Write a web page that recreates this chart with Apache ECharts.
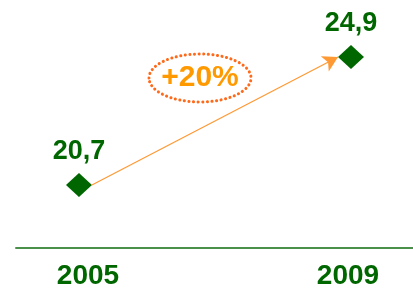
<!DOCTYPE html>
<html><head><meta charset="utf-8">
<script src="https://cdn.jsdelivr.net/npm/echarts@6/dist/echarts.min.js"></script>
<style>html,body{margin:0;padding:0;background:#fff}#c{width:413px;height:290px}</style>
</head><body><div id="c"></div>
<script>
const years = [2005, 2009];
const values = [20.7, 24.9];
const valueLabels = ['20,7', '24,9'];
const growthLabel = '+20%';

const green = '#006600';
const orange = '#FF9900';
const font = '"Liberation Sans", Arial, sans-serif';

const chart = echarts.init(document.getElementById('c'), null, {renderer: 'canvas'});
const half = 0.19; // half diamond width in x data units (axis 1)
chart.setOption({
  animation: false,
  grid: {left: 16, right: 0, top: 0, bottom: 42},
  xAxis: [{
    type: 'value', min: 2003.892, max: 2010,
    axisLine: {show: true, lineStyle: {color: '#4A904A', width: 2}},
    axisTick: {show: false}, splitLine: {show: false},
    axisLabel: {customValues: years, formatter: v => String(v), color: green,
      fontFamily: font, fontWeight: 'bold', fontSize: 28, margin: 14}
  }, {
    type: 'value', min: 2004.074, max: 2009.912, show: false
  }],
  yAxis: {type: 'value', min: 18.633, max: 26.77, show: false},
  series: [{
    type: 'scatter', xAxisIndex: 1,
    data: years.map((y, i) => [y, values[i]]),
    symbol: 'diamond', symbolSize: [26, 24],
    itemStyle: {color: green, opacity: 1}, z: 3,
    label: {show: true, position: 'inside', offset: [0, -33],
      formatter: p => valueLabels[p.dataIndex], color: green, opacity: 1,
      fontFamily: font, fontWeight: 'bold', fontSize: 27},
    emphasis: {disabled: true},
    markLine: {
      silent: true, symbol: ['none', 'arrow'], symbolSize: [13, 15],
      lineStyle: {color: '#FF9933', width: 1.2, type: 'solid', opacity: 1},
      label: {show: false},
      data: [[{coord: [years[0] + half, values[0]]}, {coord: [years[1] - half, values[1]]}]]
    }
  }],
  graphic: [{
    type: 'ellipse', shape: {cx: 200, cy: 78, rx: 51, ry: 24},
    style: {fill: 'none', stroke: '#FF6A1A', lineWidth: 3, lineDash: [0.1, 4.5], lineCap: 'round'}
  }, {
    type: 'text', x: 200, y: 78,
    style: {text: growthLabel, fill: orange, font: 'bold 30px ' + font, align: 'center', verticalAlign: 'middle'}
  }]
});
</script></body></html>
